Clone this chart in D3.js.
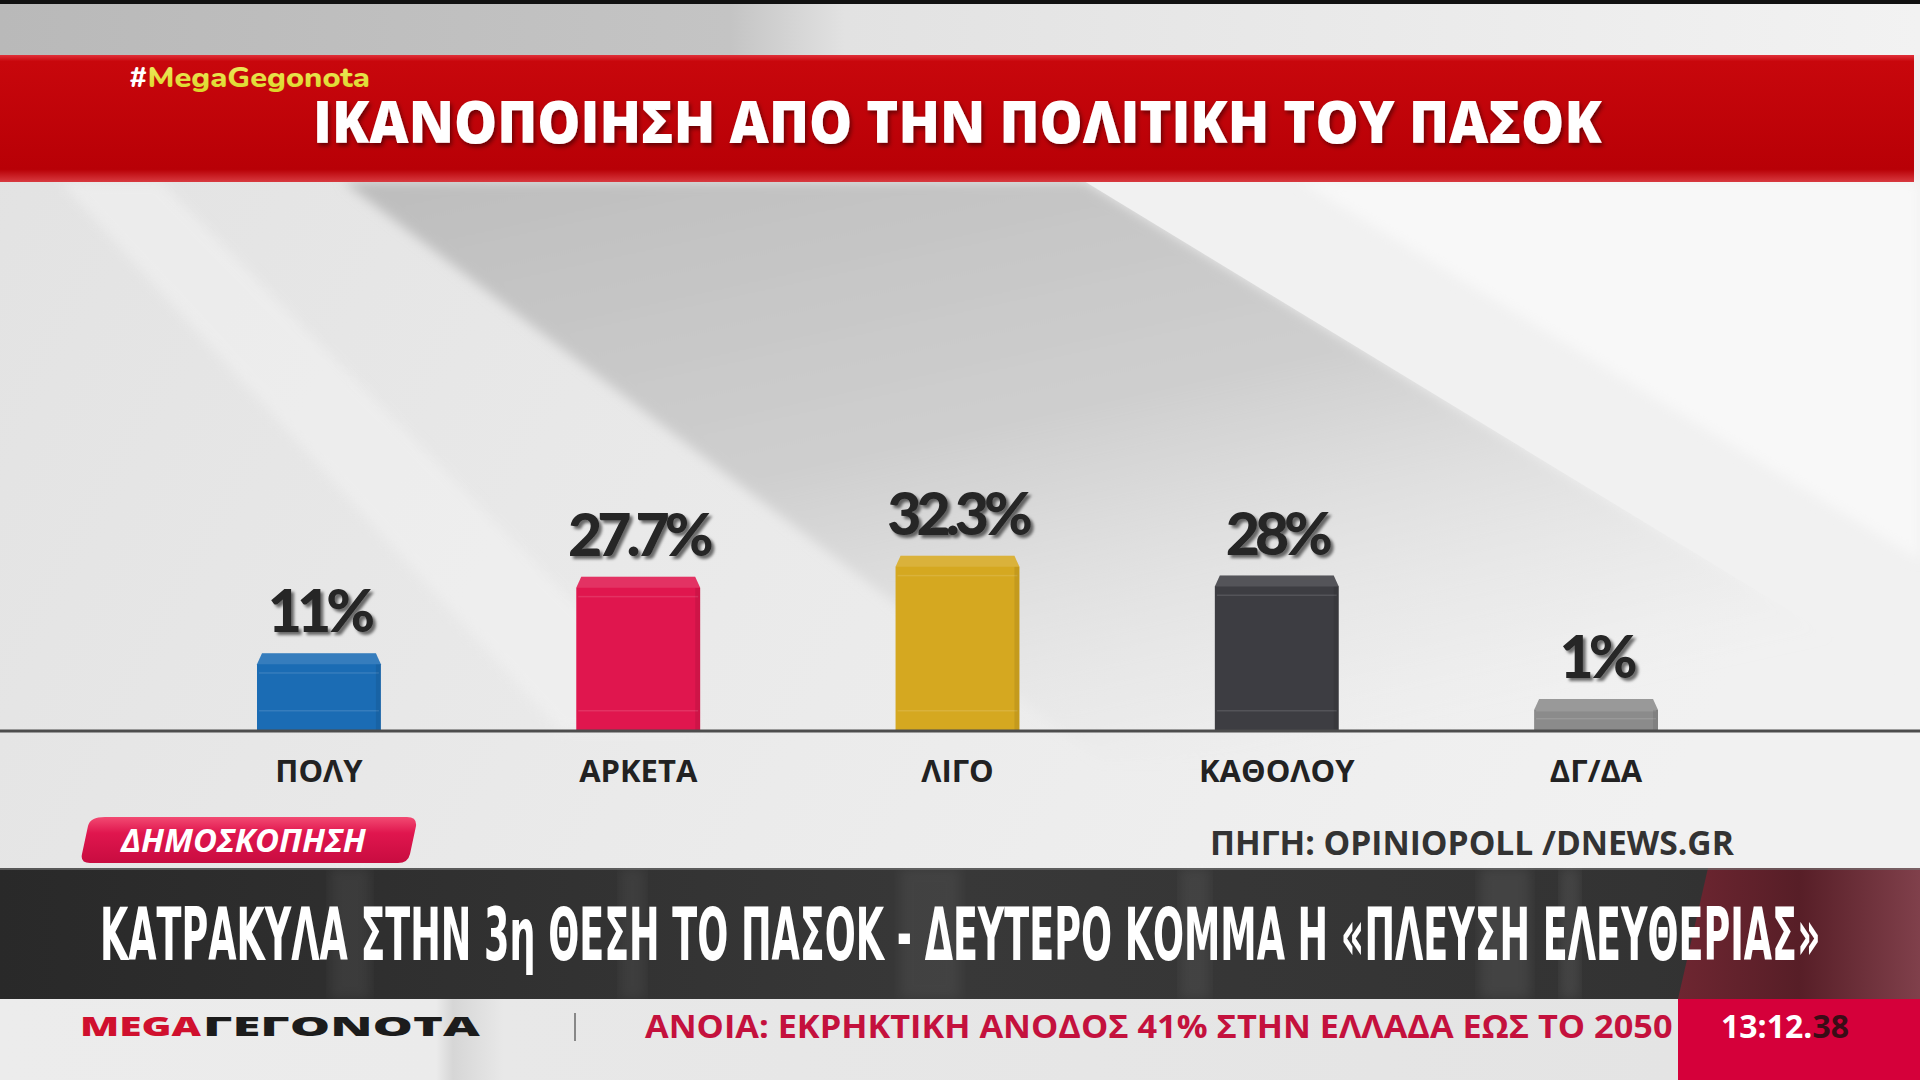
<!DOCTYPE html>
<html>
<head>
<meta charset="utf-8">
<script src="https://cdn.jsdelivr.net/npm/d3@7"></script>
<style>
  body { margin: 0; overflow: hidden; background: #ddd; }
  svg { display: block; }
</style>
</head>
<body>
<script>
//chart data
var categories = ["ΠΟΛΥ", "ΑΡΚΕΤΑ", "ΛΙΓΟ", "ΚΑΘΟΛΟΥ", "ΔΓ/ΔΑ"];
var values = [11, 27.7, 32.3, 28, 1];
var valueLabels = ["11%", "27.7%", "32.3%", "28%", "1%"];

//texts
var hashtag = "MegaGegonota";
var title = "ΙΚΑΝΟΠΟΙΗΣΗ ΑΠΟ ΤΗΝ ΠΟΛΙΤΙΚΗ ΤΟΥ ΠΑΣΟΚ";
var tagText = "ΔΗΜΟΣΚΟΠΗΣΗ";
var sourceText = "ΠΗΓΗ: OPINIOPOLL /DNEWS.GR";
var headline = "ΚΑΤΡΑΚΥΛΑ ΣΤΗΝ 3η ΘΕΣΗ ΤΟ ΠΑΣΟΚ - ΔΕΥΤΕΡΟ ΚΟΜΜΑ Η «ΠΛΕΥΣΗ ΕΛΕΥΘΕΡΙΑΣ»";
var tickerText = "ΑΝΟΙΑ: ΕΚΡΗΚΤΙΚΗ ΑΝΟΔΟΣ 41% ΣΤΗΝ ΕΛΛΑΔΑ ΕΩΣ ΤΟ 2050";
var clockMain = "13:12.", clockFrac = "38";

//bar colours, same order as categories
var palette = ["#1b6cb4", "#e0164e", "#d5a820", "#3d3d42", "#8b8b8b"];

var w = 1920, h = 1080;
var baseline = 731;   //y of the floor line
var plinth = 27.5;    //every bar stands on a small plinth

var svg = d3.select("body").append("svg")
    .attr("width", w)
    .attr("height", h);

var defs = svg.append("defs");

function linGrad(id, x1, y1, x2, y2, stops){
    var g = defs.append("linearGradient").attr("id", id)
        .attr("x1", x1).attr("y1", y1).attr("x2", x2).attr("y2", y2);
    stops.forEach(function(s){
        g.append("stop").attr("offset", s[0]).attr("stop-color", s[1])
            .attr("stop-opacity", s[2] === undefined ? 1 : s[2]);
    });
}

//squeeze a text horizontally so it spans exactly `width` from x
function fitText(sel, x, y, width){
    var len = sel.node().getComputedTextLength();
    sel.attr("x", 0).attr("y", 0)
        .attr("transform", "translate(" + x + "," + y + ") scale(" + (width / len) + ",1)");
    return sel;
}

linGrad("bgMain", "0", "0", "1", "0.3", [[0, "#e2e2e2"], [0.5, "#eaeaea"], [1, "#f1f1f1"]]);
linGrad("band", "0", "0", "0.6", "1", [[0, "#bdbdbd"], [0.5, "#cfcfcf"], [1, "#e4e4e4", 0]]);
linGrad("topStrip", "0", "0", "1", "0", [[0, "#b9b9b9"], [0.38, "#c4c4c4"], [0.44, "#e2e2e2"], [1, "#f2f2f2"]]);
linGrad("redBar", "0", "0", "0", "1", [[0, "#e0303a"], [0.05, "#c8070c"], [0.9, "#b80006"], [1, "#d83a40"]]);
linGrad("darkBand", "0", "0", "1", "0", [[0, "#292929"], [0.5, "#383838"], [0.86, "#333"], [1, "#2e2e2e"]]);
linGrad("wine", "0", "0", "1", "0", [[0, "#6e2631"], [0.5, "#571e27"], [1, "#80404b"]]);
linGrad("tag", "0", "0", "0", "1", [[0, "#f24a72"], [0.35, "#e0164e"], [1, "#c80c40"]]);
linGrad("ticker", "0", "0", "1", "0", [[0, "#ececec"], [0.26, "#ebebeb"], [0.27, "#d6d6d6"], [0.3, "#e8e8e8"], [1, "#e4e4e4"]]);
linGrad("hashGrad", "0", "0", "0", "1", [[0, "#f2ee6a"], [1, "#d8d21e"]]);

var shadow = defs.append("filter").attr("id", "shadow")
    .attr("x", "-20%").attr("y", "-20%").attr("width", "140%").attr("height", "150%");
shadow.append("feDropShadow").attr("dx", 2).attr("dy", 3)
    .attr("stdDeviation", 2).attr("flood-color", "#000").attr("flood-opacity", 0.45);

var shadowHeavy = defs.append("filter").attr("id", "shadowHeavy")
    .attr("x", "-20%").attr("y", "-20%").attr("width", "140%").attr("height", "150%");
shadowHeavy.append("feDropShadow").attr("dx", 3).attr("dy", 3)
    .attr("stdDeviation", 1.5).attr("flood-color", "#000").attr("flood-opacity", 0.55);

var soft = defs.append("filter").attr("id", "soft");
soft.append("feGaussianBlur").attr("stdDeviation", 6);

//---------- background ----------
svg.append("rect").attr("width", w).attr("height", h).attr("fill", "url(#bgMain)");

//darker diagonal wedge behind the bars
svg.append("path")
    .attr("d", "M343,181 L1084,181 L1920,690 L1920,760 L1100,760 Z")
    .attr("fill", "url(#band)")
    .attr("filter", "url(#soft)");
//sharp light area on the upper right
svg.append("path")
    .attr("d", "M1084,181 L1920,181 L1920,690 Z")
    .attr("fill", "#f1f1f1");
svg.append("path")
    .attr("d", "M1300,181 L1920,181 L1920,560 Z")
    .attr("fill", "#f8f8f8")
    .attr("filter", "url(#soft)");
//soft light streak on the left
svg.append("path")
    .attr("d", "M60,181 L160,181 L700,731 L560,731 Z")
    .attr("fill", "#f2f2f2")
    .attr("opacity", 0.6)
    .attr("filter", "url(#soft)");

//top strip above the header
svg.append("rect").attr("y", 0).attr("width", w).attr("height", 55).attr("fill", "url(#topStrip)");
svg.append("rect").attr("width", w).attr("height", 4).attr("fill", "#111");

//---------- header ----------
svg.append("rect").attr("y", 55).attr("width", 1914).attr("height", 127).attr("fill", "url(#redBar)");

var hash = svg.append("text")
    .style("font-family", "Nunito, 'Open Sans', sans-serif")
    .style("font-weight", 800)
    .style("font-size", "28px");
hash.append("tspan").attr("fill", "#fff").text("#");
hash.append("tspan").attr("fill", "url(#hashGrad)").text(hashtag);
fitText(hash, 129, 87, 241);

fitText(svg.append("text")
    .attr("fill", "#fff")
    .attr("filter", "url(#shadow)")
    .style("font-family", "'Open Sans', sans-serif")
    .style("font-weight", 800)
    .style("font-size", "58px")
    .text(title), 313, 143, 1289);

//---------- bars ----------
var x = d3.scaleBand()
    .domain(categories)
    .range([257, 1658])
    .paddingInner(0.612)
    .paddingOuter(0);

var y = d3.scaleLinear()
    .domain([0, 35])
    .range([baseline - plinth, baseline - plinth - 160]);

var bars = svg.selectAll(".bar")
    .data(values)
    .enter()
    .append("g")
    .attr("class", "bar")
    .attr("transform", function(d, i){ return "translate(" + x(categories[i]) + ",0)"; });

var bw = x.bandwidth();

//body with chamfered top corners
bars.append("path")
    .attr("d", function(d){
        var t = y(d);
        return "M5," + t + " L" + (bw - 5) + "," + t + " L" + bw + "," + (t + 11) +
            " L" + bw + "," + baseline + " L0," + baseline + " L0," + (t + 11) + " Z";
    })
    .attr("fill", function(d, i){ return palette[i]; });

//lit top face
bars.append("path")
    .attr("d", function(d){
        var t = y(d);
        return "M5," + t + " L" + (bw - 5) + "," + t + " L" + bw + "," + (t + 11) +
            " L0," + (t + 11) + " Z";
    })
    .attr("fill", "#fff")
    .attr("opacity", 0.12);

//bevel lines
bars.append("rect")
    .attr("x", 2).attr("width", bw - 4).attr("height", 1.5)
    .attr("y", function(d){ return y(d) + 19; })
    .attr("fill", "#fff").attr("opacity", 0.12);
bars.append("rect")
    .attr("x", 2).attr("width", bw - 4).attr("height", 1.5)
    .attr("y", baseline - 21)
    .attr("fill", "#fff").attr("opacity", 0.12);
//right side shading
bars.append("rect")
    .attr("x", bw - 5).attr("width", 5)
    .attr("y", function(d){ return y(d) + 11; })
    .attr("height", function(d){ return baseline - y(d) - 11; })
    .attr("fill", "#000").attr("opacity", 0.08);

//floor line
svg.append("rect")
    .attr("x", 0).attr("y", baseline - 1.5)
    .attr("width", w).attr("height", 3)
    .attr("fill", "#4d4d4d");

//value labels
svg.selectAll(".valueLabel")
    .data(values)
    .enter()
    .append("text")
    .attr("class", "valueLabel")
    .attr("x", function(d, i){ return x(categories[i]) + bw / 2; })
    .attr("y", function(d){ return y(d) - 21; })
    .attr("text-anchor", "middle")
    .attr("fill", "#252525")
    .attr("filter", "url(#shadowHeavy)")
    .style("font-family", "Lato, Roboto, sans-serif")
    .style("font-weight", 900)
    .style("font-size", "59px")
    .style("letter-spacing", "-5px")
    .text(function(d, i){ return valueLabels[i]; });

//category labels
svg.selectAll(".catLabel")
    .data(categories)
    .enter()
    .append("text")
    .attr("class", "catLabel")
    .attr("x", function(d){ return x(d) + bw / 2; })
    .attr("y", 782)
    .attr("text-anchor", "middle")
    .attr("fill", "#222")
    .style("font-family", "'Open Sans', sans-serif")
    .style("font-weight", 700)
    .style("font-size", "31px")
    .text(function(d){ return d; });

//---------- poll tag and source ----------
svg.append("path")
    .attr("d", "M105,817 L407,817 Q417,817 416,826 L410,854 Q408,863 398,863 L90,863 Q80,863 82,854 L88,826 Q90,817 105,817 Z")
    .attr("fill", "url(#tag)");

fitText(svg.append("text")
    .attr("fill", "#fff")
    .style("font-family", "'Open Sans', sans-serif")
    .style("font-weight", 700)
    .style("font-style", "italic")
    .style("font-size", "33px")
    .text(tagText), 121, 852, 245);

fitText(svg.append("text")
    .attr("fill", "#333")
    .style("font-family", "'Open Sans', sans-serif")
    .style("font-weight", 700)
    .style("font-size", "34px")
    .text(sourceText), 1210, 855, 524);

//---------- headline band ----------
svg.append("rect").attr("y", 868).attr("width", w).attr("height", 131).attr("fill", "url(#darkBand)");
//vertical streaks
[[330, 40, 0.06], [620, 25, 0.05], [900, 60, 0.05], [1180, 30, 0.06], [1480, 50, 0.07], [1560, 20, 0.08]]
    .forEach(function(s){
        svg.append("rect").attr("x", s[0]).attr("y", 868).attr("width", s[1]).attr("height", 131)
            .attr("fill", "#fff").attr("opacity", s[2]).attr("filter", "url(#soft)");
    });
svg.append("path")
    .attr("d", "M1708,868 L1920,868 L1920,999 L1678,999 Z")
    .attr("fill", "url(#wine)");
svg.append("rect").attr("y", 868).attr("width", w).attr("height", 2).attr("fill", "#777").attr("opacity", 0.6);

fitText(svg.append("text")
    .attr("fill", "#fff")
    .style("font-family", "'Liberation Sans Narrow', 'DejaVu Sans Condensed', Roboto, sans-serif")
    .style("font-weight", 700)
    .style("font-size", "73px")
    .text(headline), 100, 960, 1721);

//---------- ticker ----------
svg.append("rect").attr("y", 999).attr("width", 1678).attr("height", 81).attr("fill", "url(#ticker)");
svg.append("rect").attr("x", 1678).attr("y", 999).attr("width", 242).attr("height", 81).attr("fill", "#d5003a");

fitText(svg.append("text")
    .attr("fill", "#d0102e")
    .style("font-family", "'Open Sans', sans-serif")
    .style("font-weight", 800)
    .style("font-size", "27px")
    .text("MEGA"), 80, 1036, 121);
fitText(svg.append("text")
    .attr("fill", "#1c1c1c")
    .style("font-family", "'Open Sans', sans-serif")
    .style("font-weight", 800)
    .style("font-size", "27px")
    .text("ΓΕΓΟΝΟΤΑ"), 203, 1036, 277);

svg.append("rect").attr("x", 574).attr("y", 1013).attr("width", 2).attr("height", 28).attr("fill", "#888");

fitText(svg.append("text")
    .attr("fill", "#c4113d")
    .style("font-family", "'Open Sans', sans-serif")
    .style("font-weight", 700)
    .style("font-size", "32px")
    .text(tickerText), 645, 1038, 1028);

var clock = svg.append("text")
    .attr("x", 1721).attr("y", 1038)
    .style("font-family", "'Open Sans', sans-serif")
    .style("font-weight", 700)
    .style("font-size", "32px");
clock.append("tspan").attr("fill", "#fff").text(clockMain);
clock.append("tspan").attr("fill", "#3a0c16").text(clockFrac);
</script>
</body>
</html>
